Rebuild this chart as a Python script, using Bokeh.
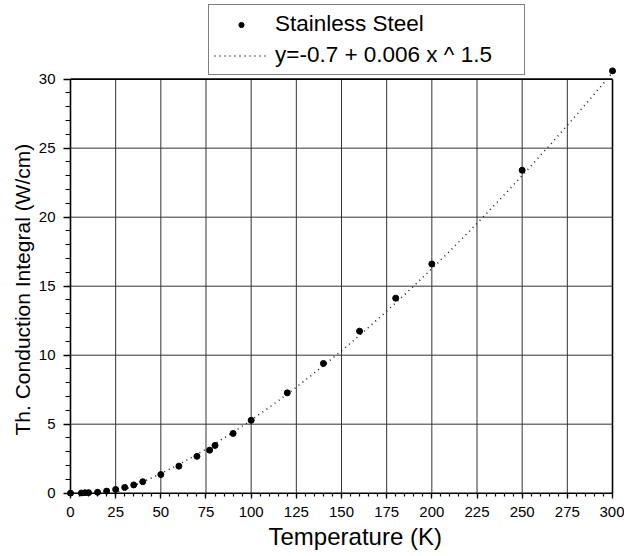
import numpy as np
from bokeh.plotting import figure
from bokeh.models import Range1d, SingleIntervalTicker, Legend, LegendItem, Title
from bokeh.embed import file_html
from bokeh.resources import INLINE

# ---- data ----
temperature = [0, 6, 8, 10, 15, 20, 25, 30, 35, 40, 50, 60, 70, 77, 80, 90,
               100, 120, 140, 160, 180, 200, 250, 300]
integral = [0.0, 0.01, 0.03, 0.04, 0.07, 0.15, 0.27, 0.42, 0.60, 0.83, 1.35,
            1.96, 2.67, 3.12, 3.46, 4.33, 5.28, 7.27, 9.40, 11.74, 14.13,
            16.61, 23.40, 30.60]
fit_a, fit_b, fit_n = -0.7, 0.006, 1.5          # y = a + b * x ^ n (legend)
x_ticks = list(range(0, 301, 25))
y_ticks = list(range(0, 31, 5))
series_label = "Stainless Steel"
fit_label = "y=-0.7 + 0.006 x ^ 1.5"
x_title = "Temperature (K)"
y_title = "Th. Conduction Integral (W/cm)"

FONT = "Liberation Sans"

# fitted curve (drawn where it is above zero, up to the last temperature)
fit_start = ((0 - fit_a) / fit_b) ** (1.0 / fit_n)
fit_x = np.linspace(fit_start, temperature[-1], 300)
fit_y = fit_a + fit_b * fit_x ** fit_n

# the frame reaches up to the top of the canvas so that the legend box
# (which sits above the y = 30 line) is inside it; grid/axes stop at 30
p = figure(width=624, height=556,
           x_range=Range1d(-2.21, 302.21), y_range=Range1d(-0.24, 35.70),
           output_backend="svg", toolbar_location=None,
           min_border_left=66, min_border_right=8,
           min_border_top=0, min_border_bottom=60)
p.outline_line_color = None
p.grid.visible = False
p.background_fill_color = "white"
p.border_fill_color = "white"

# interior grid lines from the tick arrays
ix, iy = x_ticks[1:-1], y_ticks[1:-1]
p.segment(x0=ix, y0=[y_ticks[0]] * len(ix), x1=ix, y1=[y_ticks[-1]] * len(ix),
          line_color="#333333", line_width=1)
p.segment(x0=[x_ticks[0]] * len(iy), y0=iy, x1=[x_ticks[-1]] * len(iy), y1=iy,
          line_color="#333333", line_width=1)
# frame edges
ex = [x_ticks[0], x_ticks[-1]]
ey = [y_ticks[0], y_ticks[-1]]
p.segment(x0=ex, y0=[ey[0]] * 2, x1=ex, y1=[ey[1]] * 2,
          line_color="black", line_width=1.6)
p.segment(x0=[ex[0]] * 2, y0=ey, x1=[ex[1]] * 2, y1=ey,
          line_color="black", line_width=1.6)

fit = p.line(fit_x, fit_y, line_color="#1a1a1a", line_width=1.5, line_dash="1 4")
pts = p.scatter(temperature, integral, marker="circle", size=6,
                fill_color="black", line_color="black")

xa = p.xaxis[0]
xa.bounds = (x_ticks[0], x_ticks[-1])
xa.ticker = SingleIntervalTicker(interval=25, num_minor_ticks=5)
xa.major_tick_in = 3
xa.major_tick_out = 2
xa.minor_tick_in = 3
xa.minor_tick_out = 0
xa.major_label_standoff = 8
xa.major_label_text_font_size = "15px"

ya = p.yaxis[0]
ya.bounds = (y_ticks[0], y_ticks[-1])
ya.ticker = SingleIntervalTicker(interval=5, num_minor_ticks=5)
ya.major_tick_in = 4
ya.major_tick_out = 3
ya.minor_tick_in = 4
ya.minor_tick_out = 1
ya.major_label_standoff = 8
ya.major_label_text_font_size = "15px"

for ax in (xa, ya):
    ax.axis_line_color = None
    ax.major_tick_line_color = "black"
    ax.minor_tick_line_color = "black"
    ax.major_tick_line_width = 1.3
    ax.minor_tick_line_width = 1.2
    ax.major_label_text_font = FONT
    ax.major_label_text_color = "black"

# axis titles (placed along the 0..300 / 0..30 part of the frame)
p.add_layout(Title(text=x_title, align="left", offset=202, vertical_align="bottom",
                   standoff=2, text_font=FONT, text_font_size="24px",
                   text_font_style="normal", text_color="black"), "below")
p.add_layout(Title(text=y_title, align="left", offset=61, vertical_align="bottom",
                   standoff=4, text_font=FONT, text_font_size="21px",
                   text_font_style="normal", text_color="black"), "left")

legend = Legend(items=[LegendItem(label=series_label, renderers=[pts]),
                       LegendItem(label=fit_label, renderers=[fit])],
                location=(142, 421), orientation="vertical",
                border_line_color="black", border_line_width=1.5,
                background_fill_color="white", background_fill_alpha=1.0,
                padding=5, spacing=3, margin=0,
                glyph_width=54, glyph_height=13, label_height=28,
                label_width=244, label_standoff=7,
                label_text_font=FONT, label_text_font_size="22.5px",
                label_text_color="black")
p.add_layout(legend)

open("out.html", "w").write(file_html(p, INLINE))
